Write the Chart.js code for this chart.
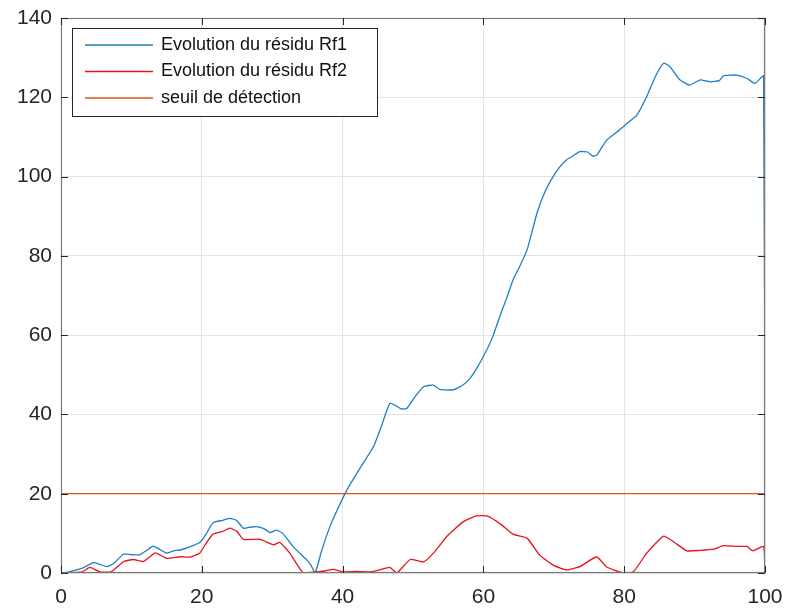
<!DOCTYPE html>
<html>
<head>
<meta charset="utf-8">
<script src="https://cdn.jsdelivr.net/npm/chart.js@4/dist/chart.umd.min.js"></script>
<style>
  html, body { margin: 0; padding: 0; background: #fff; }
  #wrap { width: 786px; height: 610px; }
</style>
</head>
<body>
<div id="wrap"><canvas id="chart" width="786" height="610"></canvas></div>
<script>
// Series (x = time, y = residual)
const rf1X = [0, 1, 1.75, 3, 4.6, 5.5, 6.5, 7.5, 8.9, 10, 11.2, 12, 13.1, 14, 15, 16, 16.9, 18, 19.7, 20.5,
  21.6, 23, 24, 25, 25.9, 27, 27.8, 28.8, 29.7, 30.6, 31.5, 33, 34.9, 35.5, 36.1, 37, 38.2, 39.4, 40.6, 42.5,
  44.4, 45.5, 46.7, 47.5, 48.3, 49.1, 50.3, 51.5, 52.9, 53.8, 55.7, 57, 58.1, 59, 60, 61.3, 62.4, 63.3, 64.2, 65.2,
  66.2, 67.6, 68.7, 69.9, 70.8, 71.8, 72.7, 73.7, 74.8, 75.5, 76.1, 77.5, 79, 80.4, 81.8, 83.2, 84.5, 85.6, 86.5, 87.9,
  89.3, 90.8, 92.2, 93.5, 94.1, 96, 97.4, 98.6, 99.8, 100];
const rf1Y = [0, 0.2, 0.6, 1.2, 2.6, 2.2, 1.6, 2.4, 4.8, 4.6, 4.6, 5.5, 6.8, 6.0, 5.0, 5.6, 5.8, 6.4, 7.7, 9.5,
  12.7, 13.3, 13.8, 13.2, 11.3, 11.6, 11.7, 11.2, 10.2, 10.8, 10.0, 6.6, 3.3, 2.0, 0, 5.5, 11.7, 16.5, 20.9, 26.5,
  31.9, 37, 42.8, 42.3, 41.4, 41.5, 44.5, 47.0, 47.4, 46.3, 46.2, 47.3, 49.1, 51.5, 54.6, 59.5, 65.1, 69.3, 73.9, 77.5,
  81.5, 90.7, 96, 100, 102.3, 104.2, 105.2, 106.3, 106.2, 105.2, 105.4, 109.2, 111.3, 113.4, 115.5, 120.2, 125.5, 128.6, 127.7, 124.4,
  123.1, 124.4, 123.9, 124.2, 125.4, 125.6, 124.8, 123.5, 125.4, 0];

const rf2X = [0, 3, 4.1, 5.5, 7.1, 8.9, 10.3, 11.7, 13.4, 15, 16.9, 18.3, 19.7, 20.6, 21.6, 23, 24, 25, 25.9, 28.3,
  30.2, 31.1, 32.5, 34.4, 36, 37.5, 38.7, 40, 42, 44, 45.3, 46.7, 47.7, 49.6, 51.5, 52.9, 54.8, 57.1, 59, 60.5,
  62.4, 64.2, 66.2, 68, 69.9, 71.8, 73.7, 76.1, 77.5, 79.9, 81.3, 83.2, 85.6, 87, 88.9, 90.8, 92.7, 94.1, 96, 97.4,
  98.3, 99.8, 100];
const rf2Y = [0, 0.3, 1.4, 0.3, 0.3, 2.9, 3.4, 2.9, 5.1, 3.7, 4.1, 4.0, 5.0, 7.5, 9.8, 10.5, 11.3, 10.5, 8.5, 8.5,
  7.1, 7.7, 5.0, 0, 0.2, 0.5, 0.9, 0.3, 0.4, 0.3, 0.8, 1.4, 0, 3.4, 2.8, 5.0, 9.2, 12.9, 14.4, 14.4,
  12.4, 9.8, 8.8, 4.5, 2.0, 0.8, 1.6, 4.1, 1.5, 0, 0.3, 5.0, 9.3, 7.9, 5.6, 5.7, 6.0, 6.9, 6.7, 6.7,
  5.6, 6.7, 0];

const seuilX = [0, 100];
const seuilY = [20, 20];

const xTicks = [0, 20, 40, 60, 80, 100];
const yTicks = [0, 20, 40, 60, 80, 100, 120, 140];

const labels = ['Evolution du résidu Rf1', 'Evolution du résidu Rf2', 'seuil de détection'];
const colors = ['#1F7EC2', '#E8121A', '#D95319'];

const toPoints = (xs, ys) => xs.map((x, i) => ({ x: x, y: ys[i] }));

const FONT = '"Liberation Sans", Arial, Helvetica, sans-serif';

// box, inward ticks and legend, matlab style
const axesBox = {
  id: 'axesBox',
  afterDraw(chart) {
    const { ctx, chartArea: a, scales } = chart;
    ctx.save();
    ctx.strokeStyle = '#7a7a7a';
    ctx.lineWidth = 1.2;
    ctx.strokeRect(a.left + 0.5, a.top + 0.5, a.right - a.left - 1, a.bottom - a.top - 1);
    ctx.strokeStyle = '#262626';
    ctx.lineWidth = 1;
    ctx.beginPath();
    xTicks.forEach(v => {
      const px = Math.round(scales.x.getPixelForValue(v)) + 0.5;
      ctx.moveTo(px, a.bottom); ctx.lineTo(px, a.bottom - 7);
      ctx.moveTo(px, a.top); ctx.lineTo(px, a.top + 7);
    });
    yTicks.forEach(v => {
      const py = Math.round(scales.y.getPixelForValue(v)) + 0.5;
      ctx.moveTo(a.left, py); ctx.lineTo(a.left + 7, py);
      ctx.moveTo(a.right, py); ctx.lineTo(a.right - 7, py);
    });
    ctx.stroke();

    // legend
    const lx = a.left + 11, ly = a.top + 10, lw = 305, lh = 88;
    ctx.fillStyle = '#fff';
    ctx.fillRect(lx, ly, lw, lh);
    ctx.strokeStyle = '#262626';
    ctx.strokeRect(lx + 0.5, ly + 0.5, lw, lh);
    ctx.font = '18px ' + FONT;
    ctx.textBaseline = 'middle';
    labels.forEach((t, i) => {
      const ry = ly + 17 + i * 26.5;
      ctx.strokeStyle = colors[i];
      ctx.lineWidth = 1.3;
      ctx.beginPath();
      ctx.moveTo(lx + 13, ry); ctx.lineTo(lx + 81, ry);
      ctx.stroke();
      ctx.fillStyle = '#111';
      ctx.fillText(t, lx + 89, ry);
    });
    ctx.restore();
  }
};

new Chart(document.getElementById('chart'), {
  type: 'line',
  data: {
    datasets: [
      { label: labels[0], data: toPoints(rf1X, rf1Y), borderColor: colors[0], borderWidth: 1.3, pointRadius: 0, tension: 0.15, order: 3 },
      { label: labels[1], data: toPoints(rf2X, rf2Y), borderColor: colors[1], borderWidth: 1.3, pointRadius: 0, tension: 0.15, order: 2 },
      { label: labels[2], data: toPoints(seuilX, seuilY), borderColor: colors[2], borderWidth: 1.3, pointRadius: 0, order: 1 }
    ]
  },
  options: {
    responsive: false,
    animation: false,
    events: [],
    layout: { padding: { top: 18, right: 21, left: 0, bottom: 0 } },
    plugins: { legend: { display: false }, tooltip: { enabled: false } },
    scales: {
      x: {
        type: 'linear', min: 0, max: 100,
        afterBuildTicks: s => { s.ticks = xTicks.map(v => ({ value: v })); },
        afterFit: s => { s.height = 37; s.paddingLeft = 0; s.paddingRight = 0; },
        ticks: { color: '#262626', font: { family: FONT, size: 21 }, padding: 12, maxRotation: 0 },
        grid: { color: '#e3e3e3', drawTicks: false },
        border: { display: false }
      },
      y: {
        type: 'linear', min: 0, max: 140,
        afterBuildTicks: s => { s.ticks = yTicks.map(v => ({ value: v })); },
        afterFit: s => { s.width = 61; s.paddingTop = 0; s.paddingBottom = 0; },
        ticks: { color: '#262626', font: { family: FONT, size: 21 }, padding: 9 },
        grid: { color: '#e3e3e3', drawTicks: false },
        border: { display: false }
      }
    }
  },
  plugins: [axesBox]
});
</script>
</body>
</html>
